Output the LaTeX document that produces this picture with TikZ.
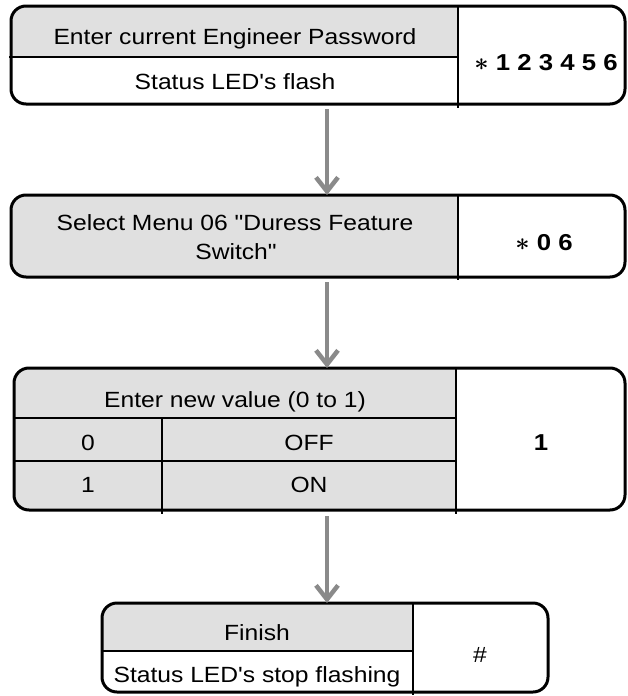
\documentclass[tikz,border=0pt]{standalone}
\usepackage{fontspec}
\setmainfont{Liberation Sans}[FakeStretch=1.12, Ligatures=TeXOff]
\usetikzlibrary{arrows.meta}
\definecolor{cellgray}{HTML}{E0E0E0}
\definecolor{arrowgray}{HTML}{8A8A8A}
\begin{document}
\begin{tikzpicture}[x=1pt,y=-1pt,
  shapebox/.style={rectangle, inner sep=0pt, outer sep=0pt},
  border/.style={draw=black, line width=3pt, rounded corners=15pt},
  rule/.style={draw=black, line width=1.5pt},
  txt/.style={font=\fontsize{22}{26}\selectfont, inner sep=0pt, text height=15.75pt, text depth=0pt},
  keytxt/.style={font=\fontsize{23}{27}\selectfont\bfseries\boldmath, inner sep=0pt, text height=16.5pt, text depth=0pt},
  arr/.style={draw=arrowgray, line width=4.5pt, -{Straight Barb[length=14pt,width=22pt]}}
]
\useasboundingbox (0,0) rectangle (627,696);
% box shapes
\node[shapebox, minimum width=614pt, minimum height=98pt] (b1) at (318,55) {};
\node[shapebox, minimum width=614pt, minimum height=82pt] (b2) at (318,236) {};
\node[shapebox, minimum width=611pt, minimum height=142pt] (b3) at (319.5,439) {};
\node[shapebox, minimum width=446pt, minimum height=89pt] (b4) at (325,647.5) {};
% gray fills
\begin{scope}
  \clip[rounded corners=15pt] (b1.north west) rectangle (b1.south east);
  \fill[cellgray] (b1.north west) rectangle (458,57);
\end{scope}
\begin{scope}
  \clip[rounded corners=15pt] (b2.north west) rectangle (b2.south east);
  \fill[cellgray] (b2.north west) rectangle (458,277);
\end{scope}
\begin{scope}
  \clip[rounded corners=15pt] (b3.north west) rectangle (b3.south east);
  \fill[cellgray] (b3.north west) rectangle (456,510);
\end{scope}
\begin{scope}
  \clip[rounded corners=15pt] (b4.north west) rectangle (b4.south east);
  \fill[cellgray] (b4.north west) rectangle (413,651);
\end{scope}
% inner rules
\path[rule] (9,57) -- (458,57);
\path[rule] (458,6) -- (458,108);
\path[rule] (458,195) -- (458,280);
\path[rule] (13,418) -- (456,418);
\path[rule] (13,461) -- (456,461);
\path[rule] (162,418) -- (162,514);
\path[rule] (456,368) -- (456,514);
\path[rule] (101,651) -- (413,651);
\path[rule] (413,603) -- (413,695);
% borders
\path[border] (b1.north west) rectangle (b1.south east);
\path[border] (b2.north west) rectangle (b2.south east);
\path[border] (b3.north west) rectangle (b3.south east);
\path[border] (b4.north west) rectangle (b4.south east);
% connectors
\coordinate (ax) at (327,0);
\draw[arr] ([yshift=-5pt]b1.south -| ax) -- (b2.north -| ax);
\draw[arr] ([yshift=-5pt]b2.south -| ax) -- (b3.north -| ax);
\draw[arr] ([yshift=-6pt]b3.south -| ax) -- (b4.north -| ax);
% texts
\node[txt] (t1a) at (235,37) {Enter current Engineer Password};
\node[txt] (t1b) at (235,82) {Status LED's flash};
\node[keytxt] (k1) at (546,62) {$\ast$ 1 2 3 4 5 6};
\node[txt] (t2a) at (235,223) {Select Menu 06 "Duress Feature};
\node[txt] (t2b) at (236,252) {Switch"};
\node[keytxt] (k2) at (544,242) {$\ast$ 0 6};
\node[txt] (t3a) at (235,400) {Enter new value (0 to 1)};
\node[txt] (t3b) at (88,443) {0};
\node[txt] (t3c) at (309,443) {OFF};
\node[txt] (t3d) at (88,485) {1};
\node[txt] (t3e) at (309,485) {ON};
\node[keytxt] (k3) at (541,442) {1};
\node[txt] (t4a) at (257,633) {Finish};
\node[txt] (t4b) at (257,675) {Status LED's stop flashing};
\node[txt] (k4) at (480,655) {\#};
\end{tikzpicture}
\end{document}
